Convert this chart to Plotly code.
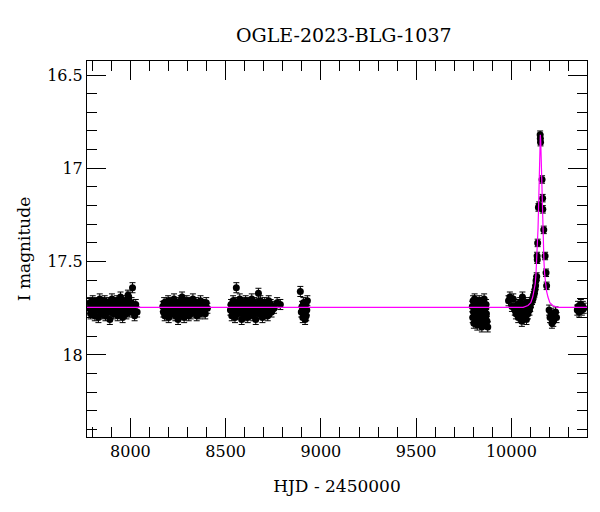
import plotly.graph_objects as go

# ---------------- data ----------------
s1_t = [7784, 7788, 7791, 7795, 7799, 7802, 7806, 7810,
        7813, 7817, 7821, 7824, 7828, 7832, 7836, 7839,
        7843, 7847, 7850, 7854, 7858, 7862, 7865, 7869,
        7873, 7877, 7880, 7884, 7888, 7892, 7895, 7899,
        7903, 7907, 7910, 7914, 7918, 7922, 7925, 7929,
        7933, 7937, 7940, 7944, 7948, 7952, 7955, 7959,
        7963, 7967, 7971, 7975, 7979, 7983, 7987, 7991,
        7996, 8001, 8006, 8011, 8016, 8022, 8028, 8035]
s1_m = [17.75, 17.72, 17.78, 17.74, 17.76, 17.71, 17.77, 17.73,
        17.79, 17.75, 17.72, 17.76, 17.74, 17.80, 17.73, 17.70,
        17.77, 17.75, 17.72, 17.78, 17.74, 17.76, 17.71, 17.79,
        17.73, 17.75, 17.77, 17.72, 17.74, 17.81, 17.76, 17.73,
        17.70, 17.75, 17.78, 17.74, 17.72, 17.77, 17.75, 17.71,
        17.79, 17.74, 17.76, 17.73, 17.69, 17.77, 17.75, 17.80,
        17.72, 17.74, 17.76, 17.71, 17.78, 17.73, 17.68, 17.69,
        17.77, 17.74, 17.72, 17.64, 17.76, 17.79, 17.73, 17.77]

s2_t = [8170, 8173, 8177, 8180, 8184, 8187, 8191, 8194,
        8198, 8201, 8205, 8208, 8212, 8215, 8219, 8222,
        8226, 8229, 8233, 8236, 8240, 8243, 8247, 8250,
        8254, 8257, 8261, 8264, 8268, 8271, 8275, 8278,
        8282, 8285, 8289, 8292, 8296, 8299, 8303, 8306,
        8310, 8313, 8317, 8320, 8324, 8328, 8332, 8336,
        8340, 8344, 8348, 8352, 8356, 8360, 8364, 8368,
        8372, 8376, 8380, 8384, 8388, 8393, 8398, 8404]
s2_m = [17.74, 17.77, 17.72, 17.79, 17.75, 17.73, 17.78, 17.76,
        17.71, 17.80, 17.74, 17.76, 17.72, 17.78, 17.75, 17.73,
        17.77, 17.70, 17.75, 17.79, 17.74, 17.72, 17.76, 17.81,
        17.73, 17.75, 17.78, 17.71, 17.77, 17.69, 17.74, 17.72,
        17.80, 17.75, 17.73, 17.77, 17.71, 17.76, 17.74, 17.79,
        17.72, 17.75, 17.78, 17.73, 17.76, 17.70, 17.74, 17.77,
        17.75, 17.72, 17.79, 17.74, 17.76, 17.73, 17.78, 17.71,
        17.75, 17.77, 17.73, 17.76, 17.74, 17.78, 17.72, 17.75]

s3_t = [8525, 8528, 8532, 8535, 8539, 8542, 8546, 8549,
        8553, 8556, 8560, 8563, 8567, 8570, 8574, 8577,
        8581, 8584, 8588, 8591, 8595, 8598, 8602, 8605,
        8609, 8612, 8616, 8619, 8623, 8626, 8630, 8633,
        8637, 8640, 8644, 8647, 8651, 8654, 8658, 8661,
        8665, 8668, 8672, 8675, 8679, 8682, 8686, 8689,
        8693, 8697, 8701, 8705, 8709, 8713, 8717, 8721,
        8726, 8731, 8736, 8741, 8747, 8754, 8770, 8787]
s3_m = [17.76, 17.73, 17.79, 17.75, 17.71, 17.77, 17.74, 17.80,
        17.72, 17.64, 17.76, 17.78, 17.73, 17.75, 17.70, 17.77,
        17.74, 17.81, 17.72, 17.76, 17.75, 17.79, 17.73, 17.71,
        17.77, 17.74, 17.80, 17.72, 17.75, 17.78, 17.73, 17.76,
        17.70, 17.75, 17.79, 17.74, 17.72, 17.77, 17.81, 17.75,
        17.73, 17.76, 17.67, 17.78, 17.74, 17.71, 17.77, 17.75,
        17.80, 17.73, 17.76, 17.72, 17.78, 17.74, 17.75, 17.79,
        17.71, 17.76, 17.73, 17.77, 17.74, 17.75, 17.72, 17.73]

s4_t = [8892, 8897, 8901, 8905, 8908, 8911, 8914, 8917, 8920, 8923, 8926, 8929]
s4_m = [17.66, 17.77, 17.74, 17.80, 17.72, 17.78, 17.75, 17.81, 17.73, 17.79, 17.76, 17.71]

s5_t = [9795, 9797, 9799, 9801, 9803, 9805, 9807, 9809,
        9811, 9813, 9815, 9817, 9819, 9821, 9823, 9825,
        9827, 9829, 9831, 9833, 9835, 9837, 9839, 9841,
        9843, 9845, 9847, 9849, 9851, 9853, 9855, 9857,
        9859, 9861, 9863, 9865, 9867, 9869, 9872, 9876]
s5_m = [17.74, 17.80, 17.71, 17.77, 17.83, 17.75, 17.70, 17.79,
        17.76, 17.82, 17.73, 17.78, 17.74, 17.84, 17.72, 17.77,
        17.80, 17.75, 17.71, 17.79, 17.74, 17.82, 17.76, 17.73,
        17.78, 17.85, 17.72, 17.76, 17.81, 17.74, 17.79, 17.70,
        17.77, 17.83, 17.75, 17.80, 17.73, 17.78, 17.82, 17.85]

s6_t = [9985, 9992, 10003, 10010, 10018, 10024, 10030, 10036,
        10041, 10046, 10050, 10055, 10058, 10062, 10067, 10071,
        10075, 10079, 10083, 10087, 10091, 10095, 10099, 10103]
s6_m = [17.71, 17.69, 17.74, 17.70, 17.76, 17.78, 17.73, 17.80,
        17.75, 17.72, 17.77, 17.82, 17.69, 17.74, 17.79, 17.76,
        17.72, 17.81, 17.75, 17.78, 17.73, 17.76, 17.74, 17.72]

ev_t = [10108, 10113, 10117, 10121, 10124, 10127, 10130, 10133,
        10135, 10136, 10138, 10142, 10146, 10151, 10152, 10153,
        10161, 10164, 10165, 10170, 10177, 10182, 10185]
ev_m = [17.71, 17.70, 17.68, 17.67, 17.65, 17.63, 17.60, 17.58,
        17.47, 17.49, 17.40, 17.21, 17.20, 16.82, 16.84, 16.86,
        17.06, 17.16, 17.22, 17.33, 17.47, 17.56, 17.63]

s7_t = [10198, 10203, 10208, 10213, 10220, 10226, 10232, 10237]
s7_m = [17.76, 17.80, 17.78, 17.83, 17.82, 17.79, 17.77, 17.80]

s8_t = [10346, 10350, 10355, 10360, 10365, 10370, 10375, 10380]
s8_m = [17.76, 17.74, 17.77, 17.75, 17.73, 17.76, 17.74, 17.75]

base_err = 0.027
event_err = 0.02

model_t = [7772, 10062, 10087, 10102, 10112, 10119, 10125, 10129, 10133,
           10137, 10140, 10142, 10144, 10146, 10148, 10150, 10152,
           10154, 10156, 10158, 10160, 10162, 10164, 10167, 10171,
           10175, 10179, 10185, 10192, 10202, 10217, 10242, 10397]
model_m = [17.745, 17.745, 17.735, 17.72, 17.69, 17.66, 17.62, 17.57, 17.50,
           17.40, 17.32, 17.24, 17.15, 17.05, 16.93, 16.85, 16.82,
           16.85, 16.93, 17.05, 17.15, 17.24, 17.32, 17.40, 17.50,
           17.57, 17.62, 17.66, 17.69, 17.72, 17.735, 17.745, 17.745]

x_range = [7772, 10397]
y_range = [18.44, 16.425]

# ---------------- figure ----------------
serif = "DejaVu Serif, Liberation Serif, serif"
fig = go.Figure()

groups = [(s1_t, s1_m, base_err), (s2_t, s2_m, base_err), (s3_t, s3_m, base_err),
          (s4_t, s4_m, base_err), (s5_t, s5_m, base_err), (s6_t, s6_m, base_err),
          (ev_t, ev_m, event_err), (s7_t, s7_m, base_err), (s8_t, s8_m, base_err)]
for t, m, e in groups:
    fig.add_trace(go.Scatter(
        x=t, y=m, mode="markers",
        marker=dict(color="black", size=7),
        error_y=dict(type="constant", value=e, color="black", thickness=1, width=3),
        showlegend=False, hoverinfo="x+y"))

fig.add_trace(go.Scatter(x=model_t, y=model_m, mode="lines",
                         line=dict(color="#ff00ff", width=1.2),
                         showlegend=False))

axis_common = dict(
    showline=True, linecolor="black", linewidth=1, mirror="allticks",
    ticks="inside", ticklen=19, tickwidth=1, tickcolor="black",
    showgrid=False, zeroline=False, automargin=False,
    tickfont=dict(family=serif, size=16, color="black"),
)

fig.update_layout(
    width=600, height=512,
    margin=dict(l=87, r=13, t=61, b=75),
    paper_bgcolor="white", plot_bgcolor="white",
    title=dict(text="OGLE-2023-BLG-1037", x=0.573, xanchor="center",
               y=1 - 35 / 512, yanchor="middle", automargin=False,
               font=dict(family=serif, size=19, color="black")),
    xaxis=dict(range=x_range, dtick=500, tick0=0, tickformat="d",
               minor=dict(dtick=100, ticklen=10, ticks="inside", tickcolor="black", tickwidth=1),
               title=dict(text="HJD - 2450000", font=dict(family=serif, size=17, color="black"),
                          standoff=19),
               **axis_common),
    yaxis=dict(range=y_range, dtick=0.5, tick0=0,
               minor=dict(dtick=0.1, ticklen=10, ticks="inside", tickcolor="black", tickwidth=1),
               title=dict(text="I magnitude", font=dict(family=serif, size=17, color="black"),
                          standoff=12),
               **axis_common),
)

fig.write_html("out.html", config={"displayModeBar": False},
               post_script="document.body.style.margin='0px';")
